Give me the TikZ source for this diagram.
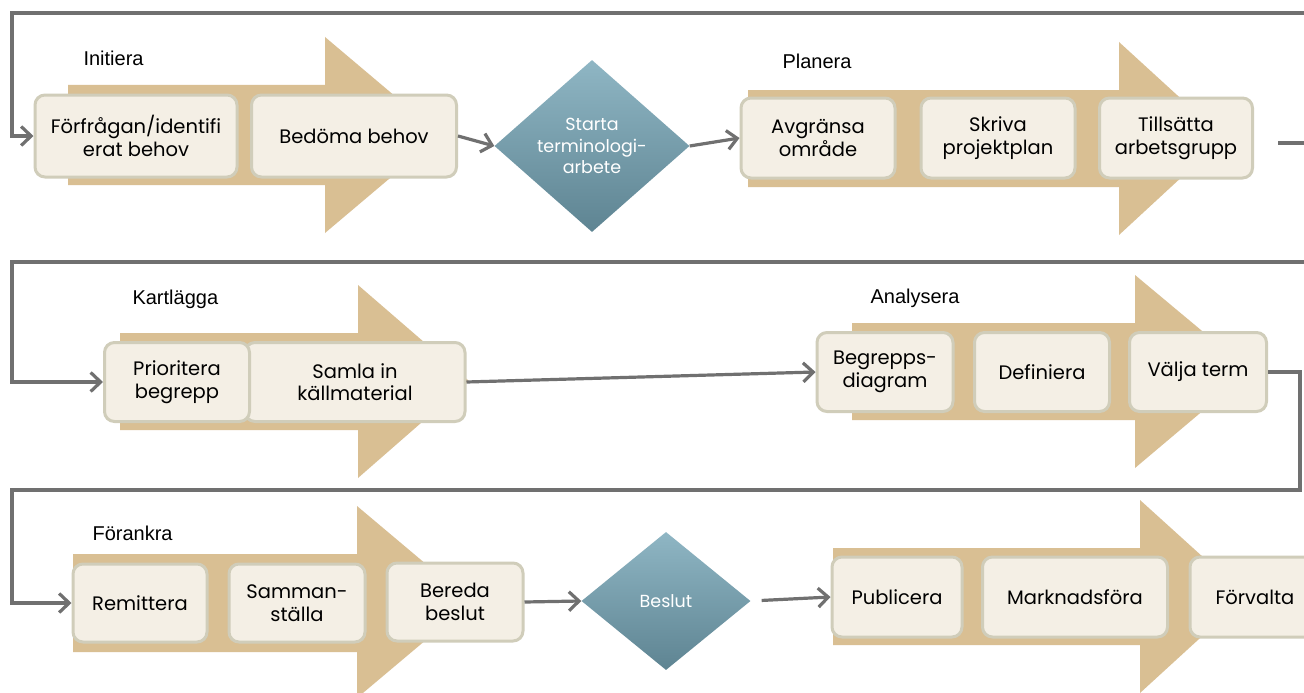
\documentclass[tikz,border=0pt]{standalone}
\usepackage{fontspec}
\setmainfont{Liberation Sans}
\newfontfamily\gothic{Poppins}
\usetikzlibrary{shapes.geometric,arrows.meta}

\definecolor{phasetan}{RGB}{217,191,147}
\definecolor{boxfill}{RGB}{244,239,229}
\definecolor{boxedge}{RGB}{208,205,186}
\definecolor{linkgray}{RGB}{112,112,112}
\definecolor{diamtop}{RGB}{143,182,196}
\definecolor{diambot}{RGB}{94,132,146}

\tikzset{
    stepbox/.style={draw=boxedge, fill=boxfill, line width=3pt,
        rounded corners=10pt, inner sep=0pt, align=center,
        font=\gothic\fontsize{19.5}{22.5}\selectfont},
    decision/.style={diamond, top color=diamtop, bottom color=diambot,
        inner sep=0pt, align=center, text=white,
        font=\gothic\fontsize{17.5}{21.5}\selectfont},
    phaselabel/.style={anchor=west, font=\fontsize{20}{22}\selectfont},
    link/.style={draw=linkgray, line width=3.2pt},
    flow/.style={link, -{Straight Barb[length=10pt,width=19pt]}},
}

\begin{document}
\begin{tikzpicture}[x=1pt,y=-1pt]
        \clip (0,0) rectangle (1304,693);
        \fill[white] (0,0) rectangle (1304,693);
        %% Phase arrows
        \fill[phasetan] (68,85) -- (325,85) -- (325,37) -- (441,135)
            -- (325,233) -- (325,185) -- (68,185) -- cycle;
        \fill[phasetan] (748,90) -- (1119,90) -- (1119,42) -- (1224,138)
            -- (1119,235) -- (1119,187) -- (748,187) -- cycle;
        \fill[phasetan] (120,333) -- (358,333) -- (358,285) -- (469,381)
            -- (358,478) -- (358,430) -- (120,430) -- cycle;
        \fill[phasetan] (852,323) -- (1135,323) -- (1135,275) -- (1250,371)
            -- (1135,468) -- (1135,420) -- (852,420) -- cycle;
        \fill[phasetan] (73,554) -- (357,554) -- (357,506) -- (471,602)
            -- (357,698) -- (357,652) -- (73,652) -- cycle;
        \fill[phasetan] (833,548) -- (1140,548) -- (1140,500) -- (1246,596)
            -- (1140,693) -- (1140,645) -- (833,645) -- cycle;
        %% Phase names
        \node[phaselabel] (lbinit) at (80,58) {Initiera};
        \node[phaselabel] (lbplan) at (779,61) {Planera};
        \node[phaselabel] (lbmap) at (129,299) {Kartlägga};
        \node[phaselabel] (lbanal) at (867,298) {Analysera};
        \node[phaselabel] (lbanch) at (89,533) {Förankra};
        %% Row 1
        \node[stepbox, minimum width=202pt, minimum height=82pt] (f1)
            at (136,136) {Förfrågan/identifi\\erat behov};
        \node[stepbox, minimum width=205pt, minimum height=82pt] (f2)
            at (354,136) {Bedöma behov};
        \node[decision, minimum width=195pt, minimum height=172pt] (d1)
            at (592,146) {Starta\\terminologi-\\arbete};
        \node[stepbox, minimum width=154pt, minimum height=80pt] (p1)
            at (818,138) {Avgränsa\\område};
        \node[stepbox, minimum width=154pt, minimum height=80pt] (p2)
            at (998,138) {Skriva\\projektplan};
        \node[stepbox, minimum width=153pt, minimum height=80pt] (p3)
            at (1176,138) {Tillsätta\\arbetsgrupp};
        %% Row 2
        \node[stepbox, minimum width=220pt, minimum height=79pt] (k2)
            at (355,382) {Samla in\\källmaterial};
        \node[stepbox, minimum width=145pt, minimum height=79pt] (k1)
            at (177,382) {Prioritera\\begrepp};
        \node[stepbox, minimum width=136pt, minimum height=79pt] (a1)
            at (885,372) {Begrepps-\\diagram};
        \node[stepbox, minimum width=135pt, minimum height=79pt] (a2)
            at (1042,372) {Definiera};
        \node[stepbox, minimum width=137pt, minimum height=79pt] (a3)
            at (1198,372) {Välja term};
        %% Row 3
        \node[stepbox, minimum width=134pt, minimum height=78pt] (r1)
            at (140,603) {Remittera};
        \node[stepbox, minimum width=136pt, minimum height=78pt] (r2)
            at (297,603) {Samman-\\ställa};
        \node[stepbox, minimum width=136pt, minimum height=78pt] (r3)
            at (455,602) {Bereda\\beslut};
        \node[decision, minimum width=169pt, minimum height=138pt] (d2)
            at (666,601) {Beslut};
        \node[stepbox, minimum width=130pt, minimum height=80pt] (u1)
            at (897,597) {Publicera};
        \node[stepbox, minimum width=185pt, minimum height=80pt] (u2)
            at (1075,597) {Marknadsföra};
        \node[stepbox, minimum width=130pt, minimum height=80pt] (u3)
            at (1255,597) {Förvalta};
        %% Connectors
        \coordinate (in1) at (1304,13);
        \coordinate (c1) at (12,13);
        \coordinate (out0) at (1278,143);
        \coordinate (out1) at (1304,143);
        \coordinate (in2) at (1304,262);
        \coordinate (c2) at (12,262);
        \coordinate (c3) at (1300,490);
        \coordinate (c4) at (12,490);
        \draw[flow] (in1) -- (c1) |- (f1.west);
        \draw[flow] (f2.east) -- (d1.west);
        \draw[flow] (d1.east) -- (p1.west);
        \draw[link] (out0) -- (out1);
        \draw[flow] (in2) -- (c2) |- (k1.west);
        \draw[flow] (k2.east) -- (a1.west);
        \draw[flow] (a3.east) -| (c3) -- (c4) |- (r1.west);
        \draw[flow] (r3.east) -- (d2.west);
        \draw[flow, shorten <=11pt] (d2.east) -- (u1.west);
    \end{tikzpicture}
\end{document}
